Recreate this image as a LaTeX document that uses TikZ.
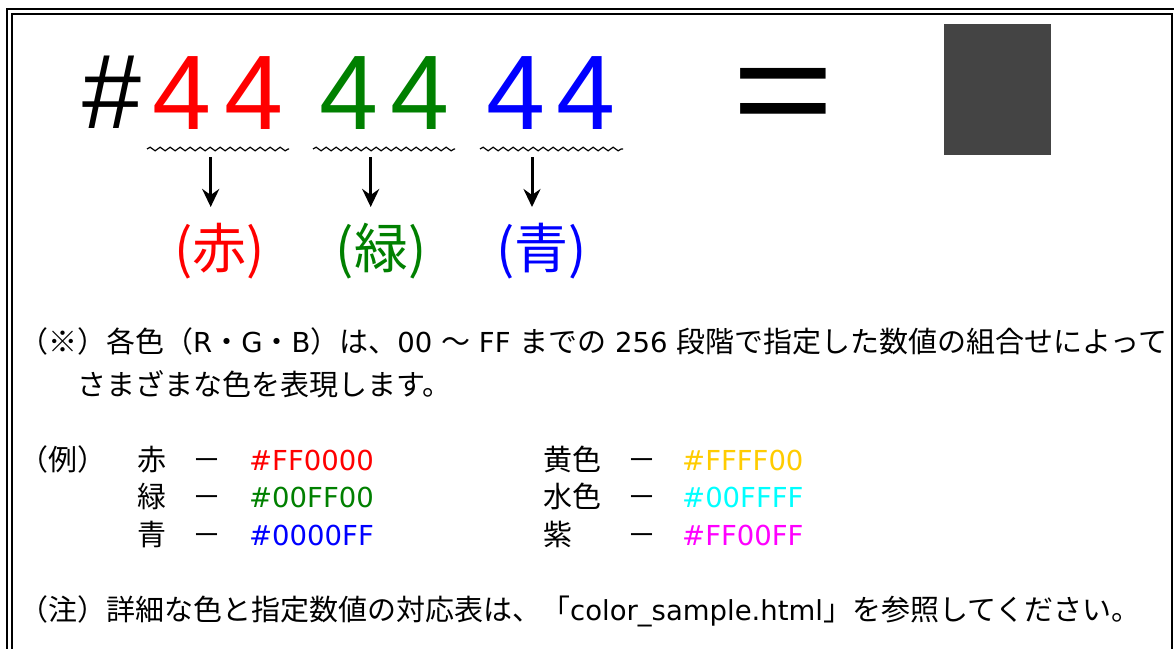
\documentclass[tikz,border=0pt]{standalone}
\usepackage{fontspec}
\setmainfont{Noto Sans CJK JP}
\newfontfamily\latinfont{Liberation Sans}
\newfontfamily\latw{DejaVu Sans}
\newcommand\latn[1]{{\latw\fontsize{27.5}{27.5}\selectfont #1}}
\usetikzlibrary{decorations.pathmorphing,arrows.meta}
\definecolor{cred}{HTML}{FF0000}
\definecolor{cgreen}{HTML}{008000}
\definecolor{cblue}{HTML}{0000FF}
\definecolor{cyellow}{HTML}{FFCC00}
\definecolor{ccyan}{HTML}{00FFFF}
\definecolor{cmagenta}{HTML}{FF00FF}
\definecolor{swatchgray}{HTML}{444444}
\tikzset{
  frame/.style={draw=black,line width=2pt},
  bigdigit/.style={font=\latinfont\fontsize{106}{106}\selectfont,inner sep=0pt},
  bigsign/.style={font=\fontsize{107}{107}\selectfont,inner sep=0pt},
  wavy/.style={draw=black,line width=1.2pt,decorate,decoration={snake,segment length=10pt,amplitude=1.8pt}},
  downarrow/.style={draw=black,line width=3pt,-{Stealth[length=18pt,width=17pt,inset=6pt]}},
  lbl/.style={font=\fontsize{54}{54}\selectfont,inner sep=0pt},
  txt/.style={font=\fontsize{29}{29}\selectfont,inner sep=0pt,anchor=west,text height=0.88em,text depth=0.12em},
}
\begin{document}
\begin{tikzpicture}[x=1pt,y=-1pt]
\useasboundingbox (0,0) rectangle (1174,648);
\clip (0,0) rectangle (1174,648);
\fill[white] (0,0) rectangle (1174,648);
% double frame (cropped at right and bottom)
\draw[frame] (7,9) rectangle (1200,690);
\draw[frame] (12,14) rectangle (1172,690);

% big colour code
\node[bigdigit] (hash) at (111.5,92) {\#};
\node[bigdigit,text=cred] (r1) at (182,93) {4};
\node[bigdigit,text=cred] (r2) at (253.5,93) {4};
\node[bigdigit,text=cgreen] (g1) at (348.5,93) {4};
\node[bigdigit,text=cgreen] (g2) at (419.5,93) {4};
\node[bigdigit,text=cblue] (b1) at (515.5,93) {4};
\node[bigdigit,text=cblue] (b2) at (586,93) {4};
\node[bigsign,anchor=base] (eq) at (783,150) {\scalebox{1.1}[1.45]{＝}};
\node[fill=swatchgray,minimum width=107pt,minimum height=131pt,inner sep=0pt] (swatch) at (997.5,89.5) {};

% wavy underlines
\coordinate (ur1) at (147,149); \coordinate (ur2) at (289,149);
\coordinate (ug1) at (313,149); \coordinate (ug2) at (455,149);
\coordinate (ub1) at (480,149); \coordinate (ub2) at (623,149);
\draw[wavy] (ur1) -- (ur2);
\draw[wavy] (ug1) -- (ug2);
\draw[wavy] (ub1) -- (ub2);

% arrows
\coordinate (ar1) at (210.7,157); \coordinate (ar2) at (210.7,207);
\coordinate (ag1) at (370.7,157); \coordinate (ag2) at (370.7,207);
\coordinate (ab1) at (532,157);   \coordinate (ab2) at (532,207);
\draw[downarrow] (ar1) -- (ar2);
\draw[downarrow] (ag1) -- (ag2);
\draw[downarrow] (ab1) -- (ab2);

% channel labels
\node[lbl,text=cred] (lred) at (219.5,251) {(赤)};
\node[lbl,text=cgreen] (lgreen) at (381,251) {(緑)};
\node[lbl,text=cblue] (lblue) at (541.5,251) {(青)};

% explanation
\node[txt] (note1) at (19,349) {（※）各色（\latn{R}・\latn{G}・\latn{B}）は、\latn{00 }～\latn{ FF }までの\latn{ 256 }段階で指定した数値の組合せによって};
\node[txt] (note2) at (77,392) {さまざまな色を表現します。};

% examples
\node[txt] (ex) at (19,467) {（例）};
\node[txt] (k1) at (137,467) {赤};
\node[txt] (d1) at (192,467) {－};
\node[txt,text=cred] (c1) at (249,467) {\latn{\#FF0000}};
\node[txt] (k2) at (137,504) {緑};
\node[txt] (d2) at (192,504) {－};
\node[txt,text=cgreen] (c2) at (249,504) {\latn{\#00FF00}};
\node[txt] (k3) at (137,542) {青};
\node[txt] (d3) at (192,542) {－};
\node[txt,text=cblue] (c3) at (249,542) {\latn{\#0000FF}};
\node[txt] (k4) at (543,467) {黄色};
\node[txt] (d4) at (627,467) {－};
\node[txt,text=cyellow] (c4) at (682,467) {\latn{\#FFFF00}};
\node[txt] (k5) at (543,504) {水色};
\node[txt] (d5) at (627,504) {－};
\node[txt,text=ccyan] (c5) at (682,504) {\latn{\#00FFFF}};
\node[txt] (k6) at (543,542) {紫};
\node[txt] (d6) at (627,542) {－};
\node[txt,text=cmagenta] (c6) at (682,542) {\latn{\#FF00FF}};

% footnote
\node[txt] (foot) at (19,617) {（注）詳細な色と指定数値の対応表は、「\latn{color\_sample.html}」を参照してください。};
\end{tikzpicture}
\end{document}
